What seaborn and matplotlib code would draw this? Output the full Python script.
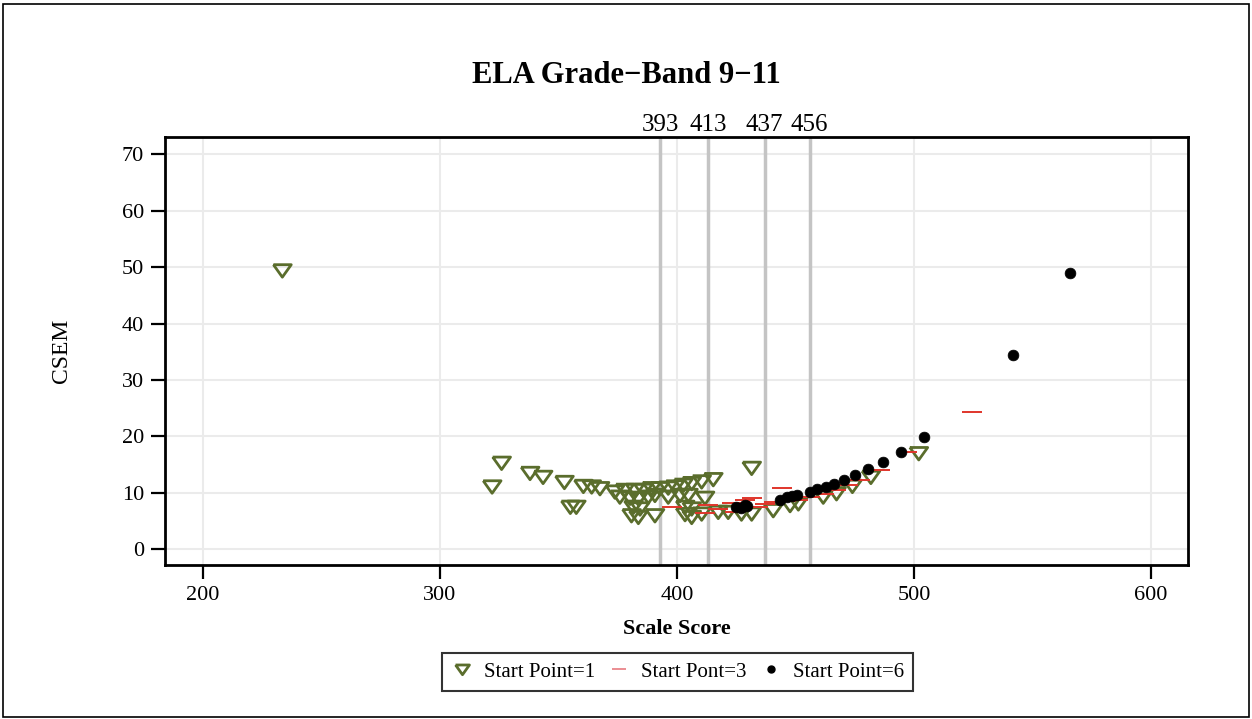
import matplotlib
matplotlib.use("Agg")
import matplotlib.pyplot as plt
from matplotlib.lines import Line2D
from matplotlib.patches import Rectangle
import seaborn as sns
import pandas as pd

# ---- data ----
sp1_x = [233.5, 322, 326, 338, 343.5, 352.5, 355, 357.5, 360.5, 364, 367.5,
         373.8, 378, 382.3, 385.8, 389.3, 392.8, 396.3, 399.2, 402.7, 406.2, 410.4, 415.3,
         375.9, 380.2, 383.7, 387.9, 390.7, 396.3, 401.3, 404.8, 411.8,
         381.6, 384.4, 403.4, 406.2,
         380.8, 383.7, 390.7, 403.4, 406.2, 410.4, 417.4, 421.6, 427.2, 431.5,
         431.5, 440.6, 447.7, 451.2, 461.7, 467.3, 474.0, 481.8, 502.0]
sp1_y = [49.4, 11.1, 15.3, 13.5, 12.8, 11.9, 7.5, 7.5, 11.2, 11.1, 10.8,
         10.2, 10.5, 10.5, 10.5, 10.8, 10.8, 10.9, 11.1, 11.4, 11.7, 12.0, 12.4,
         9.3, 9.1, 9.0, 9.3, 9.6, 9.3, 9.6, 9.6, 9.1,
         7.5, 7.2, 7.5, 7.2,
         6.0, 5.7, 6.0, 6.2, 5.7, 6.3, 6.6, 6.6, 6.3, 6.3,
         14.4, 6.9, 7.8, 8.1, 9.3, 9.9, 11.2, 12.8, 17.0]

sp3_x = [397.7, 411.8, 413.2, 417.4, 423.0, 424.5, 428.7, 431.5, 434.3, 437.0,
         441.0, 444.5, 446.0, 451.0, 456.0, 462.0, 467.0, 472.0, 477.2, 485.7,
         497.0, 524.3]
sp3_y = [7.5, 6.5, 7.9, 7.2, 8.1, 6.6, 8.7, 9.0, 7.5, 8.0,
         8.3, 10.8, 8.5, 8.8, 9.3, 9.8, 10.5, 11.3, 12.3, 14.1,
         17.2, 24.4]

sp6_x = [425.1, 427.1, 428.7, 429.4, 443.5, 446.3, 448.4, 450.8, 456.1, 459.2,
         462.9, 466.4, 470.5, 475.1, 480.7, 486.8, 494.4, 504.4, 541.9, 565.8]
sp6_y = [7.5, 7.3, 7.8, 7.7, 8.8, 9.2, 9.4, 9.6, 10.2, 10.6,
         11.1, 11.5, 12.3, 13.1, 14.2, 15.5, 17.2, 19.8, 34.5, 49.0]

ref_lines = [393, 413, 437, 456]
x_ticks = [200, 300, 400, 500, 600]
y_ticks = [0, 10, 20, 30, 40, 50, 60, 70]
legend_labels = ["Start Point=1", "Start Pont=3", "Start Point=6"]

GREEN = "#5a6d2c"
RED = "#e0352b"
BLACK = "#000000"

sns.set_theme(style="white")
plt.rcParams['font.family'] = ['Liberation Serif', 'DejaVu Serif']
plt.rcParams['axes.unicode_minus'] = True
for k in ['text.color', 'axes.labelcolor', 'xtick.color', 'ytick.color']:
    plt.rcParams[k] = 'black'

fig = plt.figure(figsize=(12.52, 7.19), dpi=100)
ax = fig.add_axes([0.1318, 0.2142, 0.8171, 0.5948])

# grid
for xt in x_ticks:
    ax.axvline(xt, color="#ebebeb", lw=1.5, zorder=0)
for yt in y_ticks:
    ax.axhline(yt, color="#ebebeb", lw=1.5, zorder=0)
# reference lines
for r in ref_lines:
    ax.axvline(r, color="#c4c4c4", lw=2.5, zorder=1)

tri = [(-1, 0.65), (1, 0.65), (0, -0.75), (-1, 0.65)]
df1 = pd.DataFrame({"x": sp1_x, "y": sp1_y})
df3 = pd.DataFrame({"x": sp3_x, "y": sp3_y})
df6 = pd.DataFrame({"x": sp6_x, "y": sp6_y})

sns.scatterplot(data=df1, x="x", y="y", marker=tri, s=165, facecolor="none",
                edgecolor=GREEN, linewidth=2.0, ax=ax, zorder=3)
sns.scatterplot(data=df3, x="x", y="y", marker="_", s=210, color=RED,
                linewidth=1.4, ax=ax, zorder=4)
sns.scatterplot(data=df6, x="x", y="y", marker="o", s=60, color=BLACK,
                edgecolor=BLACK, linewidth=0.5, ax=ax, zorder=5)

ax.set_xlim(184, 615.6)
ax.set_ylim(-2.8, 73)
ax.set_xticks(x_ticks)
ax.set_yticks(y_ticks)
ax.tick_params(axis="both", direction="out", length=10, width=1.6, color="black",
               labelsize=16, pad=5, bottom=True, left=True)
for sp in ax.spines.values():
    sp.set_color("black")
    sp.set_linewidth(2)

ax.set_xlabel("Scale Score", fontsize=16, fontweight="bold", labelpad=10)
ax.set_ylabel("CSEM", fontsize=17, labelpad=36)

# reference labels on top
for r in ref_lines:
    ax.text(r, 1.004, str(r), transform=ax.get_xaxis_transform(), ha="center",
            va="bottom", fontsize=18)

fig.text(0.5, 0.895, "ELA Grade\u2212Band 9\u221211", ha="center", va="center",
         fontsize=22, fontweight="bold")

handles = [
    Line2D([], [], marker=tri, linestyle="none", markersize=10, markerfacecolor="none",
           markeredgecolor=GREEN, markeredgewidth=2),
    Line2D([], [], marker="_", linestyle="none", markersize=10, color="#e87a80",
           markeredgewidth=1.2),
    Line2D([], [], marker="o", linestyle="none", markersize=5, color=BLACK),
]
leg = fig.legend(handles, legend_labels, loc="center", bbox_to_anchor=(0.541, 0.0655),
                 ncol=3, frameon=True, fontsize=15, handlelength=1.1, handletextpad=0.5,
                 columnspacing=0.6, borderpad=0.45, fancybox=False)
leg.get_frame().set_edgecolor("black")
leg.get_frame().set_linewidth(1.5)

fig.patches.append(Rectangle((0.002, 0.003), 0.996, 0.992, transform=fig.transFigure,
                             fill=False, edgecolor="black", linewidth=1.2))

fig.savefig("out.png", dpi=100)
